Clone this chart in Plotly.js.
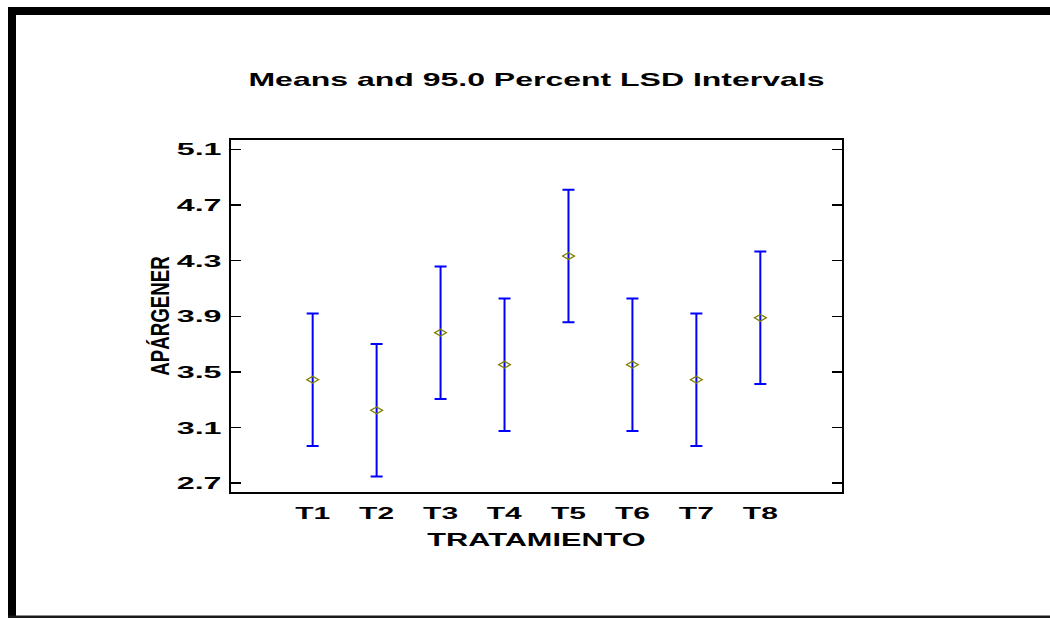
<!DOCTYPE html>
<html>
<head>
<meta charset="utf-8">
<script src="https://cdn.plot.ly/plotly-3.0.1.min.js"></script>
<style>
  html, body { margin: 0; padding: 0; background: #ffffff; overflow: hidden; }
  #chart { width: 1050px; height: 618px; }
</style>
</head>
<body>
<div id="chart"></div>
<script>
// Treatment groups, group means and LSD half-widths (95 %)
const treatments = ['T1', 'T2', 'T3', 'T4', 'T5', 'T6', 'T7', 'T8'];
const means = [3.444, 3.224, 3.782, 3.552, 4.333, 3.552, 3.444, 3.889];
const lsdHalfWidths = [0.476, 0.476, 0.476, 0.476, 0.476, 0.476, 0.476, 0.476];
const yTickValues = [2.7, 3.1, 3.5, 3.9, 4.3, 4.7, 5.1];

const W = 1050, H = 618;
const M = { l: 231, r: 208, t: 140, b: 126 };
const PW = W - M.l - M.r, PH = H - M.t - M.b;
const fx = px => (px - M.l) / PW;
const fy = py => (H - M.b - py) / PH;

const FONT = 'Liberation Sans, Arial, Helvetica, sans-serif';

function frameRect(x0, y0, x1, y1, color) {
  return {
    type: 'rect', xref: 'paper', yref: 'paper', layer: 'above',
    x0: fx(x0), x1: fx(x1), y0: fy(y1), y1: fy(y0),
    fillcolor: color, line: { width: 0 }
  };
}

const trace = {
  type: 'scatter',
  mode: 'markers',
  x: treatments,
  y: means,
  marker: {
    symbol: 'diamond-open', size: 7, color: '#808000',
    line: { color: '#808000', width: 1.4 }
  },
  error_y: {
    type: 'data', symmetric: true, array: lsdHalfWidths,
    color: '#0000ff', thickness: 2, width: 6
  },
  hoverinfo: 'x+y'
};

const layout = {
  width: W, height: H,
  margin: M,
  paper_bgcolor: '#ffffff', plot_bgcolor: '#ffffff',
  showlegend: false,
  title: {
    text: 'Means and 95.0 Percent LSD Intervals',
    font: { family: FONT, size: 18.5, weight: 'bold', color: '#000000' },
    xref: 'paper', x: 0.5, xanchor: 'center',
    yref: 'container', y: 1 - 80 / H, yanchor: 'middle'
  },
  xaxis: {
    type: 'category',
    range: [-1.277, 8.277],
    showgrid: false, zeroline: false,
    showline: true, linecolor: '#000000', linewidth: 2, mirror: true,
    ticks: '',
    ticklabelstandoff: 5,
    tickfont: { family: FONT, size: 16.5, weight: 'bold', color: '#000000' },
    title: {
      text: 'TRATAMIENTO', standoff: 12,
      font: { family: FONT, size: 18.5, weight: 'bold', color: '#000000' }
    },
    fixedrange: true
  },
  yaxis: {
    range: [2.637, 5.167],
    tickvals: yTickValues,
    tickformat: '.1f',
    showgrid: false, zeroline: false,
    showline: true, linecolor: '#000000', linewidth: 2, mirror: 'ticks',
    ticks: 'inside', ticklen: 10, tickwidth: 1.5, tickcolor: '#000000',
    ticklabelstandoff: 4,
    tickfont: { family: FONT, size: 17, weight: 'bold', color: '#000000' },
    title: {
      text: 'APÁRGENER', standoff: 26,
      font: { family: FONT, size: 18.7, weight: 'bold', color: '#000000' }
    },
    fixedrange: true
  },
  shapes: [
    frameRect(8, 7, 1050, 15, '#000000'),
    frameRect(8, 7, 16, 618, '#000000'),
    frameRect(8, 615.5, 1050, 618, '#1a1a1a')
  ]
};

// The lettering of this chart is set wide: stretch each text horizontally
// about its anchor point (rotated axis title: along its local y direction).
function widenText(gd) {
  const rules = [
    ['.gtitle', 1.73, 'x'],
    ['.xtitle', 1.66, 'x'],
    ['.xtick text', 1.82, 'x'],
    ['.ytick text', 1.9, 'x'],
    ['.ytitle', 1.4, 'y']
  ];
  rules.forEach(([sel, s, dir]) => {
    gd.querySelectorAll(sel).forEach(t => {
      const bb = t.getBBox();
      const anchor = t.getAttribute('text-anchor') || 'start';
      const base = t.getAttribute('transform') || '';
      let extra;
      if (dir === 'x') {
        const px = anchor === 'end' ? bb.x + bb.width
                 : anchor === 'middle' ? bb.x + bb.width / 2 : bb.x;
        extra = `translate(${px},0) scale(${s},1) translate(${-px},0)`;
      } else {
        const cy = bb.y + bb.height / 2;
        extra = `translate(0,${cy}) scale(1,${s}) translate(0,${-cy})`;
      }
      t.setAttribute('transform', (base + ' ' + extra).trim());
    });
  });
  // Flatten the diamond markers into wide rhombi.
  gd.querySelectorAll('.scatterlayer .point').forEach(p => {
    const base = p.getAttribute('transform') || '';
    p.setAttribute('transform', (base + ' scale(1.3,0.75)').trim());
  });
}

const gd = document.getElementById('chart');
Plotly.newPlot(gd, [trace], layout, { displayModeBar: false, staticPlot: true })
  .then(() => widenText(gd));
</script>
</body>
</html>
